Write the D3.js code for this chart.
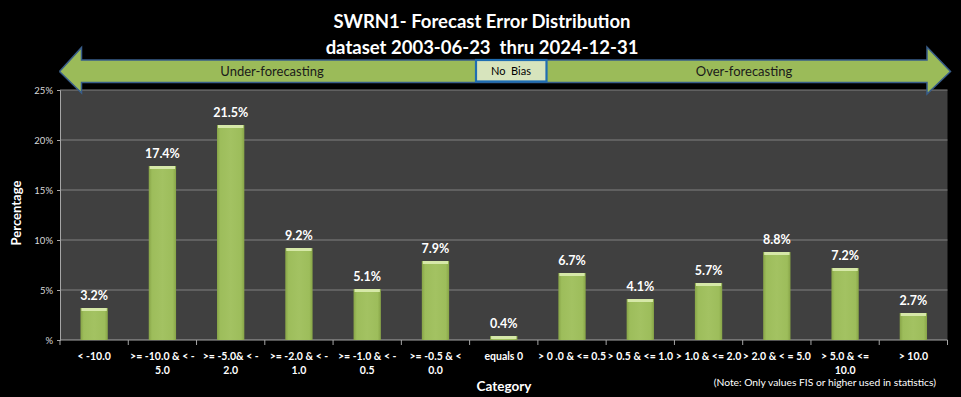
<!DOCTYPE html>
<html>
<head>
<meta charset="utf-8">
<script src="https://cdn.jsdelivr.net/npm/d3@7"></script>
<style>
  body { margin: 0; background: #000; }
  svg { display: block; font-family: Lato, "Open Sans", sans-serif; }
</style>
</head>
<body>
<div id="chart"></div>
<script>
const categories = ["< -10.0", ">= -10.0 & < -5.0", ">= -5.0& < -2.0", ">= -2.0 & < -1.0",
  ">= -1.0 & < -0.5", ">= -0.5 & < 0.0", "equals 0", "> 0 .0 & <= 0.5", "> 0.5 & <= 1.0",
  "> 1.0 & <= 2.0", "> 2.0 & < = 5.0", "> 5.0 & <= 10.0", "> 10.0"];
const labelLines = [["< -10.0"], [">= -10.0 & < -", "5.0"], [">= -5.0& < -", "2.0"], [">= -2.0 & < -", "1.0"],
  [">= -1.0 & < -", "0.5"], [">= -0.5 & <", "0.0"], ["equals 0"], ["> 0 .0 & <= 0.5"], ["> 0.5 & <= 1.0"],
  ["> 1.0 & <= 2.0"], ["> 2.0 & < = 5.0"], ["> 5.0 & <=", "10.0"], ["> 10.0"]];
const percentages = [3.2, 17.4, 21.5, 9.2, 5.1, 7.9, 0.4, 6.7, 4.1, 5.7, 8.8, 7.2, 2.7];
const yTicks = [0, 5, 10, 15, 20, 25];

const W = 961, H = 397;
const margin = { left: 60, top: 90, right: 13.5, bottom: 57 };
const width = W - margin.left - margin.right;
const height = H - margin.top - margin.bottom;

const svg = d3.select('#chart').append('svg')
  .attr('width', W).attr('height', H);

svg.append('rect').attr('width', W).attr('height', H).attr('fill', '#000');

// titles
svg.append('text').attr('x', 482).attr('y', 28).attr('text-anchor', 'middle')
  .attr('fill', '#fff').attr('font-weight', 'bold').attr('font-size', 18.5)
  .text('SWRN1- Forecast Error Distribution');
svg.append('text').attr('x', 482).attr('y', 54).attr('text-anchor', 'middle')
  .attr('fill', '#fff').attr('font-weight', 'bold').attr('font-size', 18.5)
  .attr('xml:space', 'preserve')
  .text('dataset 2003-06-23  thru 2024-12-31');

const x = d3.scaleBand().domain(categories)
  .range([margin.left, margin.left + width])
  .paddingInner(0.6).paddingOuter(0.3);
const y = d3.scaleLinear().domain([0, 25]).range([margin.top + height, margin.top]);

// plot area
svg.append('rect')
  .attr('x', margin.left).attr('y', margin.top)
  .attr('width', width).attr('height', height)
  .attr('fill', '#404040');

// gridlines
svg.append('g').selectAll('line').data(yTicks.filter(d => d > 0)).join('line')
  .attr('x1', margin.left).attr('x2', margin.left + width)
  .attr('y1', d => y(d)).attr('y2', d => y(d))
  .attr('stroke', '#808080').attr('stroke-width', 1);

// y axis
const yAxis = d3.axisLeft(y).tickValues(yTicks).tickSize(3)
  .tickFormat(d => d === 0 ? '%' : d + '%');
const gy = svg.append('g').attr('transform', `translate(${margin.left},0)`).call(yAxis);
gy.select('.domain').attr('stroke', '#a6a6a6');
gy.selectAll('.tick line').attr('stroke', '#a6a6a6');
gy.selectAll('.tick text').attr('fill', '#d9d9d9').attr('font-size', 9.5)
  .attr('font-family', 'Lato, sans-serif').attr('x', -7);

// x axis
const gx = svg.append('g').attr('transform', `translate(0,${margin.top + height})`);
gx.append('line').attr('x1', margin.left).attr('x2', margin.left + width)
  .attr('stroke', '#a6a6a6');
const step = x.step();
const boundaries = categories.map(c => x(c) - (step - x.bandwidth()) / 2).concat([margin.left + width]);
gx.selectAll('.xtick').data(boundaries).join('line')
  .attr('x1', d => d).attr('x2', d => d).attr('y1', 0).attr('y2', 5)
  .attr('stroke', '#a6a6a6');

const xl = svg.append('g').selectAll('text').data(categories).join('text')
  .attr('x', d => x(d) + x.bandwidth() / 2)
  .attr('y', margin.top + height + 20)
  .attr('text-anchor', 'middle').attr('fill', '#fff')
  .attr('font-size', 10.5).attr('font-weight', 'bold');
xl.each(function (d, i) {
  d3.select(this).selectAll('tspan').data(labelLines[i]).join('tspan')
    .attr('x', x(d) + x.bandwidth() / 2)
    .attr('dy', (t, j) => j === 0 ? 0 : 13.5)
    .text(t => t);
});

// bars
const defs = svg.append('defs');
const grad = defs.append('linearGradient').attr('id', 'barGrad')
  .attr('x1', '0%').attr('x2', '100%').attr('y1', '0%').attr('y2', '0%');
grad.append('stop').attr('offset', '0%').attr('stop-color', '#87a447');
grad.append('stop').attr('offset', '12%').attr('stop-color', '#9dbd5b');
grad.append('stop').attr('offset', '50%').attr('stop-color', '#a3c262');
grad.append('stop').attr('offset', '88%').attr('stop-color', '#9dbd5b');
grad.append('stop').attr('offset', '100%').attr('stop-color', '#87a447');

const bars = svg.append('g').selectAll('g').data(percentages).join('g');
bars.append('rect')
  .attr('x', (d, i) => x(categories[i]))
  .attr('y', d => y(d))
  .attr('width', x.bandwidth())
  .attr('height', d => y(0) - y(d))
  .attr('fill', 'url(#barGrad)');
bars.append('rect')
  .attr('x', (d, i) => x(categories[i]) + 1)
  .attr('y', d => y(d))
  .attr('width', x.bandwidth() - 2)
  .attr('height', 3)
  .attr('fill', '#d6e8a8');

// data labels
svg.append('g').selectAll('text').data(percentages).join('text')
  .attr('x', (d, i) => x(categories[i]) + x.bandwidth() / 2)
  .attr('y', d => y(d) - 8)
  .attr('text-anchor', 'middle').attr('fill', '#fff')
  .attr('font-size', 12.5).attr('font-weight', 'bold')
  .text(d => d.toFixed(1) + '%');

// axis titles
svg.append('text').attr('transform', `translate(21,${margin.top + height / 2 - 2}) rotate(-90)`)
  .attr('text-anchor', 'middle').attr('fill', '#fff')
  .attr('font-size', 13).attr('font-weight', 'bold').text('Percentage');
svg.append('text').attr('x', 504).attr('y', 391)
  .attr('text-anchor', 'middle').attr('fill', '#fff')
  .attr('font-size', 13.5).attr('font-weight', 'bold').text('Category');
svg.append('text').attr('x', 936).attr('y', 386)
  .attr('text-anchor', 'end').attr('fill', '#fff')
  .attr('font-size', 10.3).text('(Note: Only values FIS or higher used in statistics)');

// bias arrow
const arrow = [[59.5, 71.5], [81.5, 47.5], [81.5, 60], [927, 60], [927, 47], [950.5, 71.5],
  [927, 94], [927, 82.5], [81.5, 82.5], [81.5, 93], [59.5, 71.5]];
svg.append('path').attr('d', d3.line()(arrow))
  .attr('fill', '#9bbb59').attr('stroke', '#385d8a').attr('stroke-width', 1.5)
  .attr('stroke-linejoin', 'miter');
svg.append('rect').attr('x', 476).attr('y', 60).attr('width', 70.5).attr('height', 21.5)
  .attr('fill', '#d7e4bd').attr('stroke', '#1f6db2').attr('stroke-width', 2.2);
svg.append('text').attr('x', 511).attr('y', 75).attr('text-anchor', 'middle')
  .attr('fill', '#000').attr('font-size', 11).attr('xml:space', 'preserve').text('No  Bias');
svg.append('text').attr('x', 272).attr('y', 76).attr('text-anchor', 'middle')
  .attr('fill', '#1a1a1a').attr('font-size', 13).text('Under-forecasting');
svg.append('text').attr('x', 744).attr('y', 76).attr('text-anchor', 'middle')
  .attr('fill', '#1a1a1a').attr('font-size', 13).text('Over-forecasting');
</script>
</body>
</html>
